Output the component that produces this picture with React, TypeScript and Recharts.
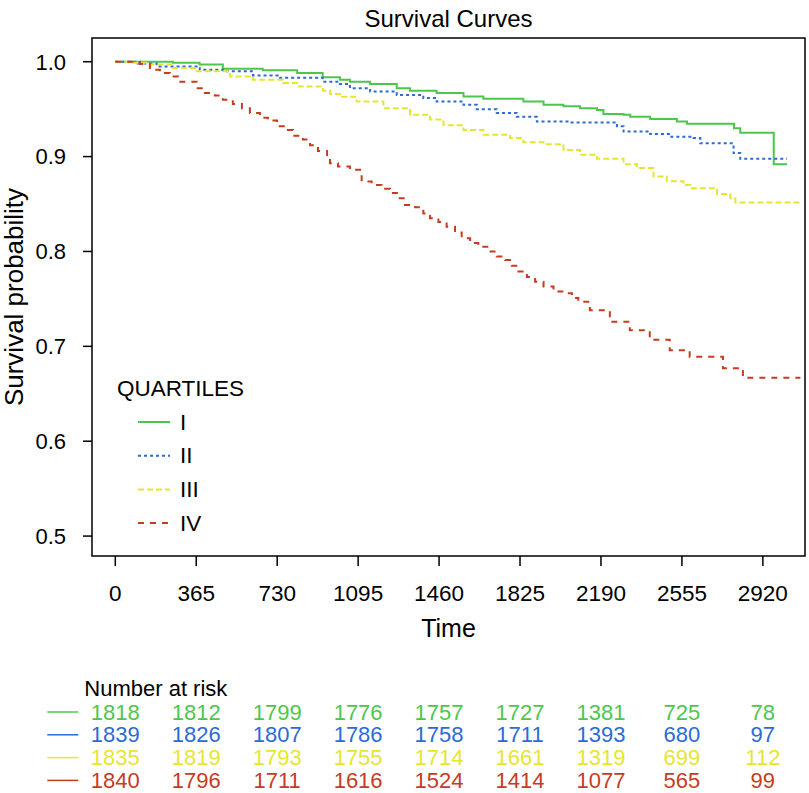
import React from "react";
import { LineChart, Line, XAxis, YAxis, ReferenceArea, Legend } from "recharts";

const FONT = "'Liberation Sans', Arial, Helvetica, sans-serif";

const quartiles = ["I", "II", "III", "IV"];
const colors = ["#4cc74c", "#2b6bd6", "#e6e632", "#c63c1e"];
const dashes = [undefined, "3 3", "6 3", "6 6"];

const timeTicks = [0, 365, 730, 1095, 1460, 1825, 2190, 2555, 2920];
const probTicks = [0.5, 0.6, 0.7, 0.8, 0.9, 1.0];

// Kaplan-Meier steps (time in days, survival)
const timesI = [0, 260, 380, 485, 665, 820, 935, 1013, 1058, 1149, 1269, 1329, 1449, 1570, 1660, 1840, 1931, 2021, 2096, 2172, 2201, 2292, 2322, 2412, 2532, 2578, 2790, 2818, 2969, 3029];
const survI = [1.0, 0.999, 0.997, 0.9926, 0.991, 0.988, 0.9835, 0.981, 0.979, 0.9765, 0.972, 0.9694, 0.967, 0.9634, 0.961, 0.958, 0.9546, 0.953, 0.951, 0.949, 0.945, 0.944, 0.942, 0.9395, 0.937, 0.9346, 0.93, 0.925, 0.892, 0.892];

const timesII = [0, 100, 187, 381, 485, 621, 742, 935, 1013, 1058, 1149, 1269, 1389, 1449, 1570, 1630, 1720, 1810, 1901, 2051, 2262, 2292, 2412, 2502, 2607, 2638, 2788, 2818, 3029];
const survII = [1.0, 0.998, 0.995, 0.9916, 0.99, 0.9855, 0.983, 0.979, 0.9765, 0.972, 0.9687, 0.965, 0.9617, 0.958, 0.9546, 0.95, 0.946, 0.942, 0.937, 0.936, 0.932, 0.9265, 0.9237, 0.921, 0.9195, 0.914, 0.9037, 0.8977, 0.8977];

const timesIII = [0, 80, 156, 260, 367, 517, 621, 756, 820, 937, 969, 1013, 1088, 1209, 1329, 1419, 1480, 1570, 1660, 1780, 1840, 1931, 2021, 2096, 2172, 2292, 2352, 2427, 2487, 2562, 2593, 2713, 2773, 2796, 3089];
const survIII = [1.0, 0.999, 0.997, 0.9933, 0.99, 0.9845, 0.981, 0.9775, 0.974, 0.9694, 0.966, 0.963, 0.958, 0.951, 0.944, 0.939, 0.933, 0.928, 0.923, 0.9195, 0.915, 0.913, 0.907, 0.902, 0.8977, 0.892, 0.888, 0.879, 0.874, 0.87, 0.8667, 0.8605, 0.856, 0.8516, 0.8516];

const timesIV = [0, 111, 156, 201, 246, 282, 367, 404, 449, 485, 530, 571, 607, 652, 688, 729, 774, 801, 846, 878, 914, 955, 968, 1004, 1058, 1111, 1156, 1201, 1239, 1276, 1306, 1352, 1389, 1419, 1457, 1494, 1532, 1562, 1600, 1637, 1682, 1720, 1758, 1788, 1818, 1856, 1893, 1931, 1976, 2021, 2059, 2088, 2140, 2230, 2320, 2410, 2500, 2590, 2740, 2830, 3089];
const survIV = [1.0, 0.9975, 0.9916, 0.988, 0.9845, 0.979, 0.972, 0.967, 0.9645, 0.96, 0.9554, 0.951, 0.946, 0.941, 0.938, 0.932, 0.928, 0.922, 0.918, 0.912, 0.906, 0.898, 0.893, 0.8895, 0.886, 0.8737, 0.87, 0.866, 0.8615, 0.856, 0.849, 0.8467, 0.84, 0.835, 0.831, 0.826, 0.82, 0.814, 0.8088, 0.805, 0.8, 0.7946, 0.791, 0.785, 0.779, 0.773, 0.768, 0.763, 0.7577, 0.756, 0.751, 0.747, 0.738, 0.726, 0.717, 0.707, 0.696, 0.689, 0.677, 0.667, 0.667];

// number at risk at each time tick
const atRiskI = [1818, 1812, 1799, 1776, 1757, 1727, 1381, 725, 78];
const atRiskII = [1839, 1826, 1807, 1786, 1758, 1711, 1393, 680, 97];
const atRiskIII = [1835, 1819, 1793, 1755, 1714, 1661, 1319, 699, 112];
const atRiskIV = [1840, 1796, 1711, 1616, 1524, 1414, 1077, 565, 99];

const toSteps = (t: number[], s: number[]) => t.map((v, i) => ({ t: v, s: s[i] }));
const series = [
  toSteps(timesI, survI),
  toSteps(timesII, survII),
  toSteps(timesIII, survIII),
  toSteps(timesIV, survIV),
];
const atRisk = [atRiskI, atRiskII, atRiskIII, atRiskIV];

const X_DOMAIN: [number, number] = [-105, 3110];
const Y_DOMAIN: [number, number] = [0.479, 1.025];
const TICK_SIZE = 10;
const TICK_MARGIN = 2;
const TXT = 22.5;
const RISK_TXT = 22;

function TimeTick(props: any) {
  const { x, y, payload, index } = props;
  const base = y - TICK_SIZE - TICK_MARGIN; // bottom of plot box
  const i = typeof index === "number" ? index : timeTicks.indexOf(payload.value);
  const rowY = (r: number) => base + 156 + r * 22.8;
  return (
    <g fontFamily={FONT}>
      <text x={x} y={base + 37} textAnchor="middle" dominantBaseline="central" fontSize={TXT} fill="#000">
        {payload.value}
      </text>
      {atRisk.map((row, r) => (
        <text key={r} x={x} y={rowY(r)} textAnchor="middle" dominantBaseline="central" fontSize={RISK_TXT} fill={colors[r]}>
          {row[i]}
        </text>
      ))}
      {i === 0 && (
        <g>
          <text x={x - 31} y={base + 132} dominantBaseline="central" fontSize={RISK_TXT} fill="#000">
            Number at risk
          </text>
          {colors.map((c, r) => (
            <line key={r} x1={x - 68} x2={x - 37} y1={rowY(r)} y2={rowY(r)} stroke={c} strokeWidth={1.5} />
          ))}
        </g>
      )}
    </g>
  );
}

function QuartileLegend() {
  return (
    <svg width={200} height={170} style={{ fontFamily: FONT }}>
      <text x={0} y={18} dominantBaseline="central" fontSize={TXT} fill="#000">QUARTILES</text>
      {quartiles.map((q, i) => (
        <g key={q}>
          <line x1={21} x2={53} y1={52 + i * 33.7} y2={52 + i * 33.7} stroke={colors[i]} strokeWidth={2} strokeDasharray={dashes[i]} />
          <text x={63} y={52 + i * 33.7} dominantBaseline="central" fontSize={TXT} fill="#000">{q}</text>
        </g>
      ))}
    </svg>
  );
}

function YTitle(props: any) {
  const vb = props.viewBox || { x: 0, y: 38, height: 518 };
  const cx = vb.x + 14;
  const cy = vb.y + vb.height / 2;
  return (
    <text x={cx} y={cy} transform={`rotate(-90, ${cx}, ${cy})`} textAnchor="middle" dominantBaseline="central" fontSize={26} fontFamily={FONT} fill="#000">
      Survival probability
    </text>
  );
}

function XTitle(props: any) {
  const vb = props.viewBox || { x: 92, y: 556, width: 713 };
  return (
    <text x={vb.x + vb.width / 2} y={vb.y + 72} textAnchor="middle" dominantBaseline="central" fontSize={25} fontFamily={FONT} fill="#000">
      Time
    </text>
  );
}

export default function App() {
  return (
    <div style={{ position: "absolute", left: 0, top: 0, width: 809, height: 793, background: "#fff" }}>
      <LineChart width={809} height={793} margin={{ top: 38, right: 4, bottom: 0, left: 0 }}>
        <XAxis
          dataKey="t"
          type="number"
          domain={X_DOMAIN}
          ticks={timeTicks}
          interval={0}
          allowDataOverflow
          height={237}
          axisLine={false}
          tickSize={TICK_SIZE}
          tickMargin={TICK_MARGIN}
          tickLine={{ stroke: "#000", strokeWidth: 1.5 }}
          tick={<TimeTick />}
          label={{ content: <XTitle /> }}
        />
        <YAxis
          type="number"
          domain={Y_DOMAIN}
          ticks={probTicks}
          allowDataOverflow
          width={92}
          axisLine={false}
          tickSize={9}
          tickMargin={17}
          tickLine={{ stroke: "#000", strokeWidth: 1.5 }}
          tickFormatter={(v: number) => v.toFixed(1)}
          tick={{ fill: "#000", fontSize: 22, fontFamily: FONT }}
          label={{ content: <YTitle /> }}
        />
        <ReferenceArea
          x1={X_DOMAIN[0]}
          x2={X_DOMAIN[1]}
          y1={Y_DOMAIN[0]}
          y2={Y_DOMAIN[1]}
          fill="none"
          stroke="#000"
          strokeWidth={1.5}
          ifOverflow="extendDomain"
          label={{ value: "Survival Curves", position: "top", offset: 11, fill: "#000", fontSize: 24, fontFamily: FONT }}
        />
        {series.map((d, i) => (
          <Line
            key={quartiles[i]}
            data={d}
            dataKey="s"
            name={quartiles[i]}
            type="stepAfter"
            stroke={colors[i]}
            strokeWidth={2}
            strokeDasharray={dashes[i]}
            dot={false}
            activeDot={false}
            isAnimationActive={false}
          />
        ))}
        <Legend
          layout="vertical"
          verticalAlign="middle"
          align="center"
          content={<QuartileLegend />}
          wrapperStyle={{ position: "absolute", left: 117, top: 370, width: 200, height: 170 }}
        />
      </LineChart>
    </div>
  );
}
